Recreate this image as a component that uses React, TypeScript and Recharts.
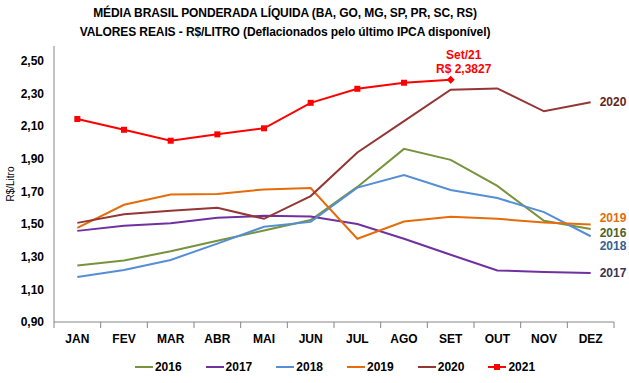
import * as React from "react";
import {LineChart, Line, XAxis, YAxis, Legend} from "recharts";

const MONTHS = ["JAN", "FEV", "MAR", "ABR", "MAI", "JUN", "JUL", "AGO", "SET", "OUT", "NOV", "DEZ"];
const Y_TICKS = [0.9, 1.1, 1.3, 1.5, 1.7, 1.9, 2.1, 2.3, 2.5];

const v2016 = [1.246, 1.277, 1.333, 1.398, 1.46, 1.524, 1.727, 1.96, 1.893, 1.733, 1.52, 1.47];
const v2017 = [1.458, 1.489, 1.505, 1.538, 1.55, 1.546, 1.5, 1.41, 1.312, 1.216, 1.206, 1.2];
const v2018 = [1.175, 1.218, 1.28, 1.38, 1.483, 1.513, 1.723, 1.8, 1.708, 1.659, 1.573, 1.425];
const v2019 = [1.476, 1.618, 1.68, 1.684, 1.712, 1.72, 1.41, 1.515, 1.544, 1.532, 1.509, 1.497];
const v2020 = [1.507, 1.56, 1.581, 1.6, 1.532, 1.671, 1.938, 2.13, 2.322, 2.33, 2.19, 2.246];
const v2021 = [2.143, 2.077, 2.01, 2.049, 2.086, 2.242, 2.328, 2.365, 2.3827];

const data = MONTHS.map((m, i) => ({
    m,
    y2016: v2016[i],
    y2017: v2017[i],
    y2018: v2018[i],
    y2019: v2019[i],
    y2020: v2020[i],
    y2021: i < v2021.length ? v2021[i] : null,
}));

const FONT = "'Liberation Sans', Arial, sans-serif";
const AXIS = "#868686";
const W = 629, H = 383;
const M_LEFT = 54, M_RIGHT = 15;
const BAND = (W - M_LEFT - M_RIGHT) / MONTHS.length;

const SERIES = [
    {key: "y2016", name: "2016", color: "#77933C", text: "#4F6228", dy: 4},
    {key: "y2017", name: "2017", color: "#7030A0", text: "#3F3151", dy: 0},
    {key: "y2018", name: "2018", color: "#558ED5", text: "#376092", dy: 10},
    {key: "y2019", name: "2019", color: "#E46C0A", text: "#E46C0A", dy: -7},
    {key: "y2020", name: "2020", color: "#943634", text: "#632523", dy: 0},
    {key: "y2021", name: "2021", color: "#FF0000", text: "#FF0000", dy: 0},
];

const MonthTick = (props: any) => {
    const {x, y, payload, index} = props;
    return (
        <g>
            {index === 0 && <line x1={x - BAND / 2} y1={y} x2={x - BAND / 2} y2={y + 6} stroke={AXIS}/>}
            <line x1={x + BAND / 2} y1={y} x2={x + BAND / 2} y2={y + 6} stroke={AXIS}/>
            <text x={x} y={y + 21} textAnchor="middle" fontFamily={FONT} fontWeight="bold" fontSize={12}
                  fill="#000">{payload.value}</text>
        </g>
    );
};

const endLabel = (s: typeof SERIES[number]) => (props: any) => {
    const {x, y, index} = props;
    if (index !== MONTHS.length - 1) return null;
    return (
        <text x={x + 9} y={y + s.dy + 4} fontFamily={FONT} fontWeight="bold" fontSize={12}
              fill={s.text}>{s.name}</text>
    );
};

const lastLabel = (props: any) => {
    const {x, y, index, value} = props;
    if (index !== v2021.length - 1) return null;
    const cx = x + 13;
    return (
        <text x={cx} y={y} textAnchor="middle" fontFamily={FONT} fontWeight="bold" fontSize={12} fill="#FF0000">
            <tspan x={cx} dy={-21}>Set/21</tspan>
            <tspan x={cx} dy={14}>{"R$ " + value.toFixed(4).replace(".", ",")}</tspan>
        </text>
    );
};

const redDot = (props: any) => {
    const {cx, cy, index} = props;
    if (cx == null || cy == null) return <g key={index}/>;
    if (index === v2021.length - 1) {
        return <path key={index} d={`M${cx},${cy - 4}L${cx + 4},${cy}L${cx},${cy + 4}L${cx - 4},${cy}Z`} fill="#FF0000"/>;
    }
    return <rect key={index} x={cx - 3} y={cy - 3} width={6} height={6} fill="#FF0000"/>;
};

const LegendBox = () => (
    <div style={{display: "flex", justifyContent: "center", gap: 24, fontFamily: FONT, fontWeight: "bold", fontSize: 12,
        paddingLeft: 56, paddingTop: 8}}>
        {SERIES.map(s => (
            <div key={s.key} style={{display: "flex", alignItems: "center"}}>
                <svg width={18} height={10}>
                    <line x1={0} y1={5} x2={18} y2={5} stroke={s.color} strokeWidth={2}/>
                    {s.key === "y2021" && <rect x={6} y={2} width={6} height={6} fill={s.color}/>}
                </svg>
                <span style={{marginLeft: 2}}>{s.name}</span>
            </div>
        ))}
    </div>
);

export default function App() {
    return (
        <div style={{position: "relative", width: W, height: H, background: "#fff"}}>
            <style>{`body{margin:0}`}</style>
            <div style={{position: "absolute", top: 4, left: 0, width: 570, textAlign: "center", fontFamily: FONT,
                fontWeight: "bold", fontSize: 12, letterSpacing: -0.1, lineHeight: "19px", color: "#000"}}>
                MÉDIA BRASIL PONDERADA LÍQUIDA (BA, GO, MG, SP, PR, SC, RS)<br/>
                VALORES REAIS - R$/LITRO (Deflacionados pelo último IPCA disponível)
            </div>
            <LineChart width={W} height={H} data={data} margin={{top: 46, right: M_RIGHT, left: 0, bottom: 0}}>
                <XAxis dataKey="m" height={30} tick={<MonthTick/>} tickLine={false} tickSize={0} tickMargin={0}
                       interval={0} padding={{left: BAND / 2, right: BAND / 2}} stroke={AXIS}/>
                <YAxis width={M_LEFT} domain={[0.9, 2.59]} ticks={Y_TICKS} allowDataOverflow tickLine={false}
                       tickSize={0} tickMargin={10} stroke={AXIS}
                       tick={{fill: "#000", fontFamily: FONT, fontWeight: "bold", fontSize: 12}}
                       tickFormatter={(v: number) => v.toFixed(2).replace(".", ",")}
                       label={{value: "R$/Litro", angle: -90, position: "insideLeft", offset: 10,
                           style: {fontFamily: FONT, fontSize: 10, fill: "#000", textAnchor: "middle"}}}/>
                <Legend verticalAlign="bottom" height={31} content={<LegendBox/>}/>
                {SERIES.slice(0, 5).map(s => (
                    <Line key={s.key} dataKey={s.key} name={s.name} stroke={s.color} strokeWidth={2} dot={false}
                          isAnimationActive={false} label={endLabel(s)}/>
                ))}
                <Line dataKey="y2021" name="2021" stroke="#FF0000" strokeWidth={2} dot={redDot}
                      isAnimationActive={false} connectNulls={false} label={lastLabel}/>
            </LineChart>
        </div>
    );
}
